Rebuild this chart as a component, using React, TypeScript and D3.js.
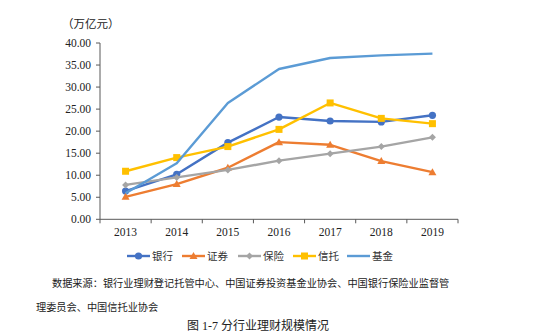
import React from "react";
import * as d3 from "d3";

const years = ["2013", "2014", "2015", "2016", "2017", "2018", "2019"];
const bank = [6.4, 10.2, 17.4, 23.2, 22.3, 22.1, 23.6];
const securities = [5.1, 8.0, 11.7, 17.5, 16.9, 13.2, 10.7];
const insurance = [7.8, 9.5, 11.2, 13.3, 14.9, 16.5, 18.6];
const trust = [10.9, 14.0, 16.5, 20.4, 26.4, 22.9, 21.7];
const fund = [5.9, 12.7, 26.4, 34.1, 36.6, 37.2, 37.6];
const yTicks = [0, 5, 10, 15, 20, 25, 30, 35, 40];

const seriesNames = ["银行", "证券", "保险", "信托", "基金"];
const seriesColors = ["#4472C4", "#ED7D31", "#A5A5A5", "#FFC000", "#5B9BD5"];
const seriesMarkers = ["circle", "triangle", "diamond", "square", "none"];
const seriesData = [bank, securities, insurance, trust, fund];

const FONT = "'Liberation Serif', 'Noto Sans CJK SC', serif";

function Marker({ type, x, y, color }: { type: string; x: number; y: number; color: string }) {
  if (type === "circle") return <circle cx={x} cy={y} r={3.6} fill={color} />;
  if (type === "triangle")
    return <path d={`M${x},${y - 4} L${x + 4},${y + 3} L${x - 4},${y + 3} Z`} fill={color} />;
  if (type === "diamond")
    return <path d={`M${x},${y - 3.5} L${x + 3.5},${y} L${x},${y + 3.5} L${x - 3.5},${y} Z`} fill={color} />;
  if (type === "square") return <rect x={x - 3.5} y={y - 3.5} width={7} height={7} fill={color} />;
  return null;
}

export default function App() {
  const W = 550, H = 336;
  const x0 = 100, x1 = 458, yTop = 43, yBot = 219.3;
  const x = d3.scaleBand<string>().domain(years).range([x0, x1]);
  const y = d3.scaleLinear().domain([0, 40]).range([yBot, yTop]);
  const cx = (yr: string) => (x(yr) as number) + x.bandwidth() / 2;
  const line = d3
    .line<number>()
    .x((_, i) => cx(years[i]))
    .y((v) => y(v));

  const legendX = [127, 182, 238, 293, 347];

  return (
    <svg
      width={W}
      height={H}
      style={{ position: "absolute", left: 0, top: 0, background: "#fff" }}
      fontFamily={FONT}
    >
      <rect width={W} height={H} fill="#fff" />
      <text x={62} y={28} fontSize={11.5} fill="#222">（万亿元）</text>
      {/* y axis */}
      <line x1={x0} x2={x0} y1={yTop} y2={yBot} stroke="#595959" strokeWidth={1} />
      {yTicks.map((t) => (
        <g key={t}>
          <line x1={x0 - 4} x2={x0} y1={y(t)} y2={y(t)} stroke="#595959" />
          <text x={91} y={y(t) + 4} fontSize={11.5} textAnchor="end" fill="#222">
            {t.toFixed(2)}
          </text>
        </g>
      ))}
      {/* x axis */}
      <line x1={x0} x2={x1} y1={yBot} y2={yBot} stroke="#595959" />
      {years.map((yr) => (
        <g key={yr}>
          <line
            x1={x(yr) as number}
            x2={x(yr) as number}
            y1={yBot}
            y2={yBot + 4}
            stroke="#595959"
          />
          <text x={cx(yr)} y={236} fontSize={11.5} textAnchor="middle" fill="#222">
            {yr}
          </text>
        </g>
      ))}
      <line x1={x1} x2={x1} y1={yBot} y2={yBot + 4} stroke="#595959" />
      {/* series */}
      {seriesData.map((data, si) => (
        <g key={seriesNames[si]}>
          <path
            d={line(data) as string}
            fill="none"
            stroke={seriesColors[si]}
            strokeWidth={2.4}
            strokeLinejoin="round"
          />
          {data.map((v, i) => (
            <Marker
              key={i}
              type={seriesMarkers[si]}
              x={cx(years[i])}
              y={y(v)}
              color={seriesColors[si]}
            />
          ))}
        </g>
      ))}
      {/* legend */}
      {seriesNames.map((n, i) => (
        <g key={n}>
          <line
            x1={legendX[i]}
            x2={legendX[i] + 23}
            y1={256}
            y2={256}
            stroke={seriesColors[i]}
            strokeWidth={2.4}
          />
          <Marker type={seriesMarkers[i]} x={legendX[i] + 11.5} y={256} color={seriesColors[i]} />
          <text x={legendX[i] + 25} y={260} fontSize={10.5} fill="#333">
            {n}
          </text>
        </g>
      ))}
      <text x={52} y={287} fontSize={10.2} fill="#222">
        数据来源：银行业理财登记托管中心、中国证券投资基金业协会、中国银行保险业监督管
      </text>
      <text x={36} y={311} fontSize={10.2} fill="#222">
        理委员会、中国信托业协会
      </text>
      <text x={258} y={330} fontSize={12} textAnchor="middle" fill="#222">
        图 1-7 分行业理财规模情况
      </text>
    </svg>
  );
}
